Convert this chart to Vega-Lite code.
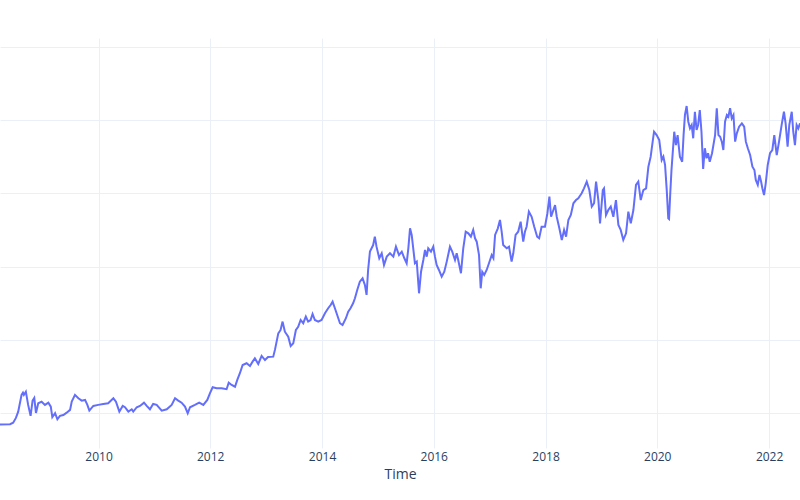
{
  "$schema": "https://vega.github.io/schema/vega-lite/v6.json",
  "width": 800,
  "height": 410,
  "autosize": {"type": "none"},
  "padding": {"top": 38, "left": 0, "right": 0, "bottom": 52},
  "background": "white",
  "data": {
    "values": [
      {"Time": "2008-03-28", "Value": 42.4}, {"Time": "2008-06-02", "Value": 42.5}, {"Time": "2008-06-22", "Value": 43.6},
      {"Time": "2008-07-10", "Value": 46.8}, {"Time": "2008-07-25", "Value": 51.1}, {"Time": "2008-08-05", "Value": 56.8},
      {"Time": "2008-08-16", "Value": 62.5}, {"Time": "2008-08-25", "Value": 64.0}, {"Time": "2008-08-31", "Value": 62.5},
      {"Time": "2008-09-13", "Value": 64.7}, {"Time": "2008-09-28", "Value": 55.7}, {"Time": "2008-10-14", "Value": 48.2},
      {"Time": "2008-10-27", "Value": 58.6}, {"Time": "2008-11-07", "Value": 60.4}, {"Time": "2008-11-18", "Value": 50.2},
      {"Time": "2008-12-03", "Value": 56.8}, {"Time": "2008-12-25", "Value": 57.9}, {"Time": "2009-01-16", "Value": 55.7},
      {"Time": "2009-02-07", "Value": 57.2}, {"Time": "2009-02-23", "Value": 54.5}, {"Time": "2009-03-05", "Value": 47.3},
      {"Time": "2009-03-23", "Value": 50.0}, {"Time": "2009-04-07", "Value": 45.9}, {"Time": "2009-04-24", "Value": 48.2},
      {"Time": "2009-05-16", "Value": 48.8}, {"Time": "2009-06-07", "Value": 50.4}, {"Time": "2009-06-29", "Value": 52.3},
      {"Time": "2009-07-10", "Value": 57.9}, {"Time": "2009-07-31", "Value": 62.5}, {"Time": "2009-08-22", "Value": 60.2},
      {"Time": "2009-09-13", "Value": 58.6}, {"Time": "2009-10-05", "Value": 59.1}, {"Time": "2009-10-20", "Value": 55.7},
      {"Time": "2009-11-02", "Value": 51.8}, {"Time": "2009-11-28", "Value": 55.0}, {"Time": "2009-12-30", "Value": 55.7},
      {"Time": "2010-02-01", "Value": 56.3}, {"Time": "2010-03-05", "Value": 56.8}, {"Time": "2010-04-08", "Value": 60.2},
      {"Time": "2010-04-25", "Value": 57.9}, {"Time": "2010-05-17", "Value": 51.1}, {"Time": "2010-06-08", "Value": 55.0},
      {"Time": "2010-06-23", "Value": 54.1}, {"Time": "2010-07-15", "Value": 51.1}, {"Time": "2010-08-06", "Value": 52.7},
      {"Time": "2010-08-16", "Value": 51.1}, {"Time": "2010-09-08", "Value": 54.1}, {"Time": "2010-09-29", "Value": 55.0},
      {"Time": "2010-10-25", "Value": 57.2}, {"Time": "2010-11-12", "Value": 55.0}, {"Time": "2010-12-03", "Value": 52.7},
      {"Time": "2010-12-24", "Value": 56.3}, {"Time": "2011-01-16", "Value": 55.7}, {"Time": "2011-02-18", "Value": 51.8},
      {"Time": "2011-03-23", "Value": 52.7}, {"Time": "2011-04-24", "Value": 55.7}, {"Time": "2011-05-16", "Value": 60.2},
      {"Time": "2011-06-06", "Value": 58.6}, {"Time": "2011-06-28", "Value": 57.2}, {"Time": "2011-07-20", "Value": 54.5},
      {"Time": "2011-08-07", "Value": 50.0}, {"Time": "2011-08-22", "Value": 54.1}, {"Time": "2011-09-23", "Value": 55.7},
      {"Time": "2011-10-21", "Value": 57.2}, {"Time": "2011-11-17", "Value": 55.7}, {"Time": "2011-12-13", "Value": 59.1},
      {"Time": "2011-12-30", "Value": 63.6}, {"Time": "2012-01-17", "Value": 67.7}, {"Time": "2012-02-12", "Value": 67.0},
      {"Time": "2012-03-16", "Value": 67.0}, {"Time": "2012-04-17", "Value": 66.4}, {"Time": "2012-05-01", "Value": 70.9},
      {"Time": "2012-05-20", "Value": 69.3}, {"Time": "2012-06-11", "Value": 68.1}, {"Time": "2012-06-26", "Value": 72.7},
      {"Time": "2012-07-13", "Value": 77.3}, {"Time": "2012-07-31", "Value": 82.9}, {"Time": "2012-08-26", "Value": 84.1},
      {"Time": "2012-09-17", "Value": 82.2}, {"Time": "2012-10-04", "Value": 85.2}, {"Time": "2012-10-19", "Value": 87.5},
      {"Time": "2012-11-10", "Value": 83.6}, {"Time": "2012-12-02", "Value": 89.1}, {"Time": "2012-12-24", "Value": 86.3},
      {"Time": "2013-01-13", "Value": 88.4}, {"Time": "2013-02-16", "Value": 88.6}, {"Time": "2013-02-27", "Value": 93.2},
      {"Time": "2013-03-21", "Value": 104.5}, {"Time": "2013-04-05", "Value": 106.8}, {"Time": "2013-04-18", "Value": 112.5},
      {"Time": "2013-05-03", "Value": 105.6}, {"Time": "2013-05-25", "Value": 102.2}, {"Time": "2013-06-10", "Value": 95.9},
      {"Time": "2013-06-27", "Value": 97.7}, {"Time": "2013-07-14", "Value": 106.8}, {"Time": "2013-07-29", "Value": 109.0},
      {"Time": "2013-08-14", "Value": 113.6}, {"Time": "2013-08-31", "Value": 111.4}, {"Time": "2013-09-17", "Value": 115.9},
      {"Time": "2013-10-02", "Value": 112.5}, {"Time": "2013-10-18", "Value": 113.6}, {"Time": "2013-10-31", "Value": 117.7},
      {"Time": "2013-11-15", "Value": 113.6}, {"Time": "2013-12-07", "Value": 112.5}, {"Time": "2013-12-29", "Value": 113.6},
      {"Time": "2014-01-20", "Value": 118.2}, {"Time": "2014-02-10", "Value": 121.6}, {"Time": "2014-02-26", "Value": 123.8},
      {"Time": "2014-03-11", "Value": 126.1}, {"Time": "2014-03-26", "Value": 121.6}, {"Time": "2014-04-10", "Value": 117.0},
      {"Time": "2014-04-28", "Value": 111.4}, {"Time": "2014-05-15", "Value": 110.2}, {"Time": "2014-06-06", "Value": 114.8},
      {"Time": "2014-06-21", "Value": 119.3}, {"Time": "2014-07-06", "Value": 121.6}, {"Time": "2014-07-23", "Value": 125.0},
      {"Time": "2014-08-04", "Value": 128.4}, {"Time": "2014-08-19", "Value": 134.1}, {"Time": "2014-09-05", "Value": 139.7},
      {"Time": "2014-09-23", "Value": 142.0}, {"Time": "2014-10-08", "Value": 137.5}, {"Time": "2014-10-19", "Value": 130.7},
      {"Time": "2014-10-29", "Value": 147.7}, {"Time": "2014-11-10", "Value": 160.2}, {"Time": "2014-12-01", "Value": 164.7},
      {"Time": "2014-12-12", "Value": 170.4}, {"Time": "2014-12-23", "Value": 163.6}, {"Time": "2015-01-10", "Value": 155.7},
      {"Time": "2015-01-26", "Value": 159.1}, {"Time": "2015-02-10", "Value": 151.1}, {"Time": "2015-02-28", "Value": 156.8},
      {"Time": "2015-03-21", "Value": 159.1}, {"Time": "2015-04-12", "Value": 156.8}, {"Time": "2015-04-29", "Value": 163.6},
      {"Time": "2015-05-19", "Value": 157.9}, {"Time": "2015-06-06", "Value": 160.2}, {"Time": "2015-06-23", "Value": 155.7},
      {"Time": "2015-07-08", "Value": 152.3}, {"Time": "2015-07-19", "Value": 162.5}, {"Time": "2015-07-30", "Value": 176.1},
      {"Time": "2015-08-10", "Value": 171.6}, {"Time": "2015-08-20", "Value": 162.5}, {"Time": "2015-08-31", "Value": 152.3},
      {"Time": "2015-09-12", "Value": 153.4}, {"Time": "2015-09-27", "Value": 131.8}, {"Time": "2015-10-10", "Value": 146.5},
      {"Time": "2015-10-25", "Value": 154.5}, {"Time": "2015-11-05", "Value": 161.3}, {"Time": "2015-11-16", "Value": 156.8},
      {"Time": "2015-11-26", "Value": 162.5}, {"Time": "2015-12-14", "Value": 160.2}, {"Time": "2015-12-29", "Value": 163.6},
      {"Time": "2016-01-09", "Value": 156.8}, {"Time": "2016-01-20", "Value": 151.1}, {"Time": "2016-02-04", "Value": 147.7},
      {"Time": "2016-02-22", "Value": 143.1}, {"Time": "2016-03-10", "Value": 146.5}, {"Time": "2016-03-26", "Value": 153.4},
      {"Time": "2016-04-16", "Value": 163.6}, {"Time": "2016-05-01", "Value": 160.2}, {"Time": "2016-05-19", "Value": 154.5},
      {"Time": "2016-05-30", "Value": 159.1}, {"Time": "2016-06-09", "Value": 154.5}, {"Time": "2016-06-27", "Value": 145.5},
      {"Time": "2016-07-12", "Value": 162.5}, {"Time": "2016-07-28", "Value": 173.8}, {"Time": "2016-08-14", "Value": 172.7},
      {"Time": "2016-08-31", "Value": 170.4}, {"Time": "2016-09-15", "Value": 175.0}, {"Time": "2016-09-27", "Value": 169.3},
      {"Time": "2016-10-08", "Value": 167.0}, {"Time": "2016-10-23", "Value": 157.9}, {"Time": "2016-11-03", "Value": 135.2},
      {"Time": "2016-11-13", "Value": 146.5}, {"Time": "2016-11-26", "Value": 144.3}, {"Time": "2016-12-12", "Value": 147.7},
      {"Time": "2016-12-27", "Value": 152.3}, {"Time": "2017-01-14", "Value": 157.9}, {"Time": "2017-01-25", "Value": 155.7},
      {"Time": "2017-02-05", "Value": 171.6}, {"Time": "2017-02-23", "Value": 176.1}, {"Time": "2017-03-09", "Value": 181.8},
      {"Time": "2017-03-20", "Value": 173.8}, {"Time": "2017-03-30", "Value": 164.7}, {"Time": "2017-04-22", "Value": 162.5},
      {"Time": "2017-05-07", "Value": 163.6}, {"Time": "2017-05-24", "Value": 153.4}, {"Time": "2017-06-04", "Value": 159.1},
      {"Time": "2017-06-19", "Value": 171.6}, {"Time": "2017-07-06", "Value": 173.8}, {"Time": "2017-07-22", "Value": 180.6},
      {"Time": "2017-08-08", "Value": 167.0}, {"Time": "2017-08-19", "Value": 173.8}, {"Time": "2017-08-30", "Value": 177.2},
      {"Time": "2017-09-14", "Value": 187.5}, {"Time": "2017-10-02", "Value": 184.0}, {"Time": "2017-10-19", "Value": 177.2},
      {"Time": "2017-11-07", "Value": 170.4}, {"Time": "2017-11-20", "Value": 169.3}, {"Time": "2017-12-06", "Value": 177.2},
      {"Time": "2017-12-28", "Value": 177.2}, {"Time": "2018-01-13", "Value": 186.4}, {"Time": "2018-01-26", "Value": 197.7},
      {"Time": "2018-02-06", "Value": 184.0}, {"Time": "2018-02-21", "Value": 188.6}, {"Time": "2018-03-04", "Value": 192.0},
      {"Time": "2018-03-15", "Value": 184.0}, {"Time": "2018-04-01", "Value": 176.1}, {"Time": "2018-04-17", "Value": 168.2},
      {"Time": "2018-05-02", "Value": 175.0}, {"Time": "2018-05-15", "Value": 170.4}, {"Time": "2018-05-30", "Value": 181.8},
      {"Time": "2018-06-15", "Value": 185.2}, {"Time": "2018-07-02", "Value": 193.2}, {"Time": "2018-07-19", "Value": 195.4},
      {"Time": "2018-08-03", "Value": 196.6}, {"Time": "2018-08-25", "Value": 200.0}, {"Time": "2018-09-09", "Value": 203.4},
      {"Time": "2018-09-27", "Value": 207.9}, {"Time": "2018-10-14", "Value": 202.2}, {"Time": "2018-10-30", "Value": 190.9},
      {"Time": "2018-11-14", "Value": 193.2}, {"Time": "2018-11-27", "Value": 207.9}, {"Time": "2018-12-12", "Value": 195.4},
      {"Time": "2018-12-23", "Value": 179.5}, {"Time": "2019-01-10", "Value": 202.2}, {"Time": "2019-01-18", "Value": 203.4},
      {"Time": "2019-01-31", "Value": 185.2}, {"Time": "2019-02-15", "Value": 188.6}, {"Time": "2019-03-03", "Value": 190.9},
      {"Time": "2019-03-20", "Value": 184.0}, {"Time": "2019-04-06", "Value": 195.4}, {"Time": "2019-04-22", "Value": 178.4},
      {"Time": "2019-05-07", "Value": 175.0}, {"Time": "2019-05-24", "Value": 168.2}, {"Time": "2019-06-11", "Value": 172.7},
      {"Time": "2019-06-26", "Value": 187.5}, {"Time": "2019-07-12", "Value": 179.5}, {"Time": "2019-07-29", "Value": 188.6},
      {"Time": "2019-08-15", "Value": 205.7}, {"Time": "2019-08-30", "Value": 207.9}, {"Time": "2019-09-15", "Value": 195.4},
      {"Time": "2019-10-02", "Value": 202.2}, {"Time": "2019-10-20", "Value": 203.4}, {"Time": "2019-11-04", "Value": 218.1},
      {"Time": "2019-11-19", "Value": 225.0}, {"Time": "2019-12-02", "Value": 235.2}, {"Time": "2019-12-11", "Value": 242.0},
      {"Time": "2019-12-28", "Value": 239.7}, {"Time": "2020-01-14", "Value": 236.3}, {"Time": "2020-01-30", "Value": 222.7},
      {"Time": "2020-02-10", "Value": 225.0}, {"Time": "2020-02-21", "Value": 219.3}, {"Time": "2020-03-03", "Value": 202.2},
      {"Time": "2020-03-13", "Value": 183.0}, {"Time": "2020-03-18", "Value": 182.5}, {"Time": "2020-03-26", "Value": 200.0},
      {"Time": "2020-04-03", "Value": 215.9}, {"Time": "2020-04-21", "Value": 242.0}, {"Time": "2020-05-02", "Value": 232.9},
      {"Time": "2020-05-13", "Value": 239.7}, {"Time": "2020-05-28", "Value": 225.0}, {"Time": "2020-06-12", "Value": 221.5},
      {"Time": "2020-06-21", "Value": 239.7}, {"Time": "2020-06-30", "Value": 253.4}, {"Time": "2020-07-11", "Value": 259.5},
      {"Time": "2020-07-22", "Value": 248.8}, {"Time": "2020-08-02", "Value": 244.3}, {"Time": "2020-08-13", "Value": 246.6},
      {"Time": "2020-08-23", "Value": 237.5}, {"Time": "2020-09-03", "Value": 255.6}, {"Time": "2020-09-14", "Value": 243.2},
      {"Time": "2020-09-24", "Value": 246.6}, {"Time": "2020-10-05", "Value": 256.8}, {"Time": "2020-10-16", "Value": 242.0},
      {"Time": "2020-10-27", "Value": 216.6}, {"Time": "2020-11-07", "Value": 230.7}, {"Time": "2020-11-18", "Value": 223.9},
      {"Time": "2020-11-28", "Value": 227.3}, {"Time": "2020-12-09", "Value": 221.5}, {"Time": "2020-12-24", "Value": 227.3},
      {"Time": "2021-01-13", "Value": 239.7}, {"Time": "2021-01-24", "Value": 258.0}, {"Time": "2021-02-04", "Value": 239.7},
      {"Time": "2021-02-15", "Value": 238.6}, {"Time": "2021-02-26", "Value": 235.2}, {"Time": "2021-03-08", "Value": 229.5},
      {"Time": "2021-03-19", "Value": 248.8}, {"Time": "2021-03-31", "Value": 253.4}, {"Time": "2021-04-10", "Value": 252.2},
      {"Time": "2021-04-21", "Value": 258.0}, {"Time": "2021-05-02", "Value": 251.1}, {"Time": "2021-05-13", "Value": 253.4},
      {"Time": "2021-05-24", "Value": 235.2}, {"Time": "2021-06-04", "Value": 240.9}, {"Time": "2021-06-19", "Value": 245.4},
      {"Time": "2021-07-07", "Value": 247.7}, {"Time": "2021-07-22", "Value": 245.4}, {"Time": "2021-08-02", "Value": 235.2},
      {"Time": "2021-08-15", "Value": 230.7}, {"Time": "2021-08-30", "Value": 226.1}, {"Time": "2021-09-14", "Value": 218.1},
      {"Time": "2021-09-27", "Value": 215.9}, {"Time": "2021-10-06", "Value": 209.1}, {"Time": "2021-10-19", "Value": 205.7},
      {"Time": "2021-10-30", "Value": 212.5}, {"Time": "2021-11-10", "Value": 207.9}, {"Time": "2021-11-18", "Value": 203.4},
      {"Time": "2021-11-29", "Value": 198.8}, {"Time": "2021-12-10", "Value": 206.8}, {"Time": "2021-12-23", "Value": 219.3},
      {"Time": "2022-01-07", "Value": 227.3}, {"Time": "2022-01-22", "Value": 229.5}, {"Time": "2022-02-04", "Value": 239.7},
      {"Time": "2022-02-20", "Value": 226.1}, {"Time": "2022-03-07", "Value": 235.2}, {"Time": "2022-03-24", "Value": 246.6},
      {"Time": "2022-04-08", "Value": 255.6}, {"Time": "2022-04-19", "Value": 247.7}, {"Time": "2022-05-02", "Value": 231.8},
      {"Time": "2022-05-13", "Value": 246.6}, {"Time": "2022-05-29", "Value": 255.6}, {"Time": "2022-06-08", "Value": 242.0},
      {"Time": "2022-06-19", "Value": 232.9}, {"Time": "2022-06-30", "Value": 246.6}, {"Time": "2022-07-11", "Value": 244.3},
      {"Time": "2022-07-22", "Value": 247.7}
    ]
  },
  "mark": {"type": "line", "color": "#636efa", "strokeWidth": 2, "clip": true},
  "encoding": {
    "x": {
      "field": "Time",
      "type": "temporal",
      "scale": {
        "domain": [{"year": 2008, "month": 3, "date": 28}, {"year": 2022, "month": 7, "date": 22}],
        "nice": false
      },
      "axis": {
        "title": "Time",
        "values": [{"year": 2010}, {"year": 2012}, {"year": 2014}, {"year": 2016}, {"year": 2018}, {"year": 2020}, {"year": 2022}],
        "format": "%Y",
        "grid": true,
        "gridColor": "#EBF0F8",
        "domain": false,
        "ticks": false,
        "tickSize": 0,
        "labelPadding": 3,
        "labelColor": "#2a3f5f",
        "labelFont": "Open Sans",
        "labelFontSize": 12,
        "titleColor": "#2a3f5f",
        "titleFont": "Open Sans",
        "titleFontSize": 14,
        "titleFontWeight": "normal",
        "titlePadding": 5
      }
    },
    "y": {
      "field": "Value",
      "type": "quantitative",
      "scale": {"domain": [26.3, 305.9], "nice": false, "zero": false},
      "axis": {
        "title": null,
        "values": [50, 100, 150, 200, 250, 300],
        "labels": false,
        "ticks": false,
        "domain": false,
        "grid": true,
        "gridColor": "#EBF0F8"
      }
    }
  },
  "config": {"view": {"stroke": null}, "font": "Open Sans"}
}
